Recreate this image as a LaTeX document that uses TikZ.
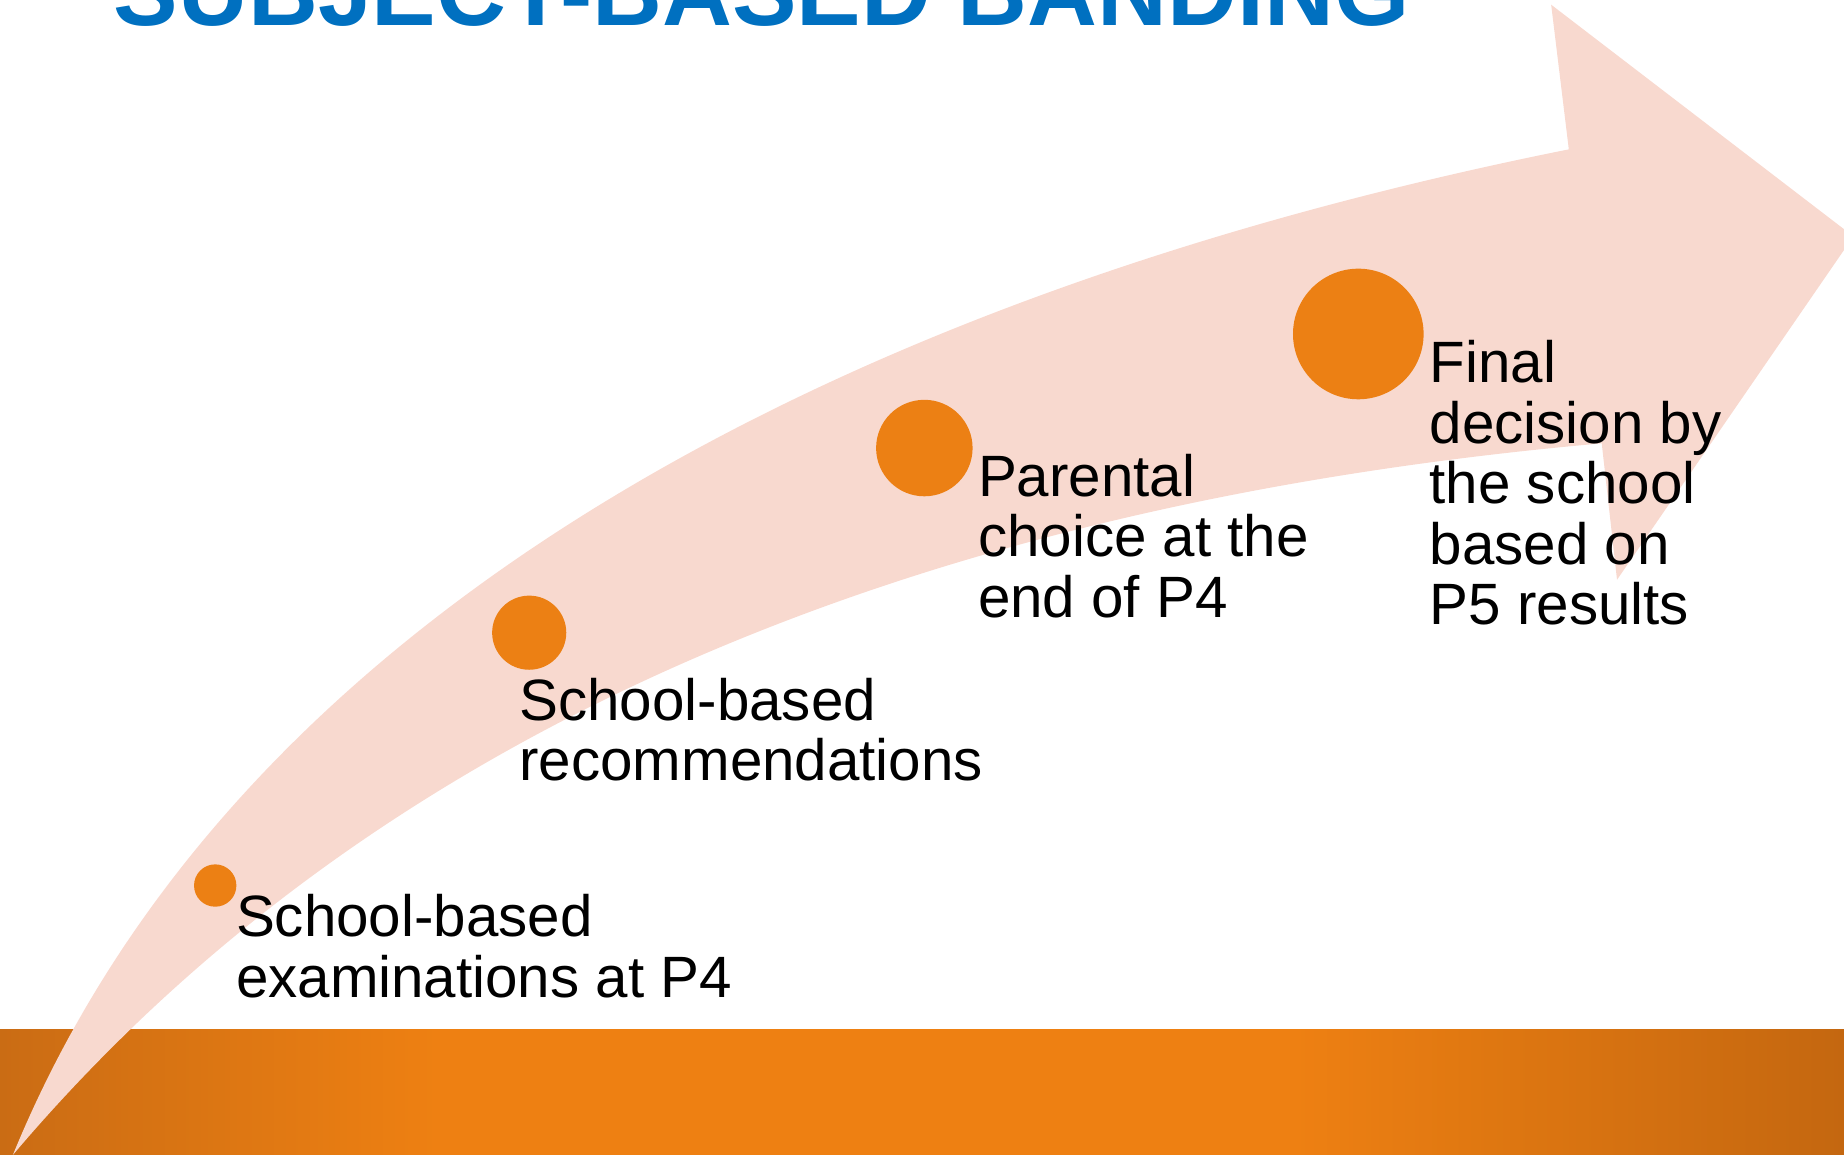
\documentclass[tikz,border=0pt]{standalone}
\usepackage{fontspec}
\setmainfont{Liberation Sans}
\usepackage{tikz}

\definecolor{titleblue}{RGB}{0,112,192}
\definecolor{arrowpink}{RGB}{248,217,207}
\definecolor{dotorange}{RGB}{236,128,20}
\definecolor{bandorange}{RGB}{238,128,18}
\definecolor{bandleft}{RGB}{202,108,20}
\definecolor{bandright}{RGB}{196,103,16}

\begin{document}
\begin{tikzpicture}[x=0.01cm, y=-0.01cm, %%% one unit = one pixel of the slide, y runs downwards
    dot/.style={circle, fill=dotorange, inner sep=0pt},
    stage/.style={anchor=base west, align=left, inner sep=0pt, font=\fontsize{14.1}{14.62}\selectfont}] %%% base = last line
      \useasboundingbox (0,0) rectangle (1568,982);
      \clip (0,0) rectangle (1568,982);

      %%% orange band at the bottom
      \shade[left color=bandleft, right color=bandorange] (0,875) rectangle (372,982);
      \fill[color=bandorange] (370,875) rectangle (1102,982);
      \shade[left color=bandorange, right color=bandright] (1100,875) rectangle (1568,982);

      %%% big curved arrow
      \fill[color=arrowpink] (11,982) .. controls (200,520) and (720,250) .. (1334,127) -- (1319,4) -- (1576,201) -- (1375,493) -- (1362,377) .. controls (650,440) and (250,700) .. (11,982) -- cycle;

      %%% title, cut off by the top edge
      \node[anchor=base west, inner sep=0pt, text=titleblue, font=\fontsize{23.4}{28}\selectfont\bfseries] (title) at (96,22) {SUBJECT-BASED BANDING};

      %%% stages along the arrow
      \node[dot, minimum size=0.36cm] (c1) at (183,753) {};
      \node[dot, minimum size=0.63cm] (c2) at (450,538) {};
      \node[dot, minimum size=0.82cm] (c3) at (786,381) {};
      \node[dot, minimum size=1.11cm] (c4) at (1155,284) {};

      \node[stage] (t1) at (200,848) {School-based\\examinations at P4};
      \node[stage] (t2) at (441,664) {School-based\\recommendations};
      \node[stage] (t3) at (831,525) {Parental\\choice at the\\end of P4};
      \node[stage] (t4) at (1215,531) {Final\\decision by\\the school\\based on\\P5 results};

    \end{tikzpicture}
\end{document}
